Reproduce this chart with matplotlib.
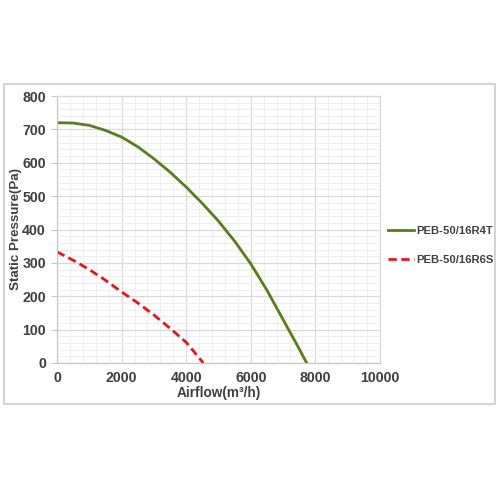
import matplotlib
matplotlib.use("Agg")
import matplotlib.pyplot as plt
from matplotlib.patches import Rectangle
from matplotlib.ticker import MultipleLocator

plt.rcParams['font.family'] = ['Liberation Sans', 'DejaVu Sans']

# Data
airflow_r4t = [0, 500, 1000, 1500, 2000, 2500, 3000, 3500, 4000, 4500, 5000, 5500, 6000, 6500, 7000, 7500, 7730]
pressure_r4t = [720, 719, 712, 697, 677, 648, 612, 572, 527, 478, 425, 365, 297, 218, 130, 42, 0]
airflow_r6s = [0, 500, 1000, 1500, 2000, 2500, 3000, 3500, 4000, 4530]
pressure_r6s = [333, 308, 280, 248, 213, 180, 144, 104, 62, 0]
series_names = ["PEB-50/16R4T", "PEB-50/16R6S"]
x_ticks = [0, 2000, 4000, 6000, 8000, 10000]
y_ticks = [0, 100, 200, 300, 400, 500, 600, 700, 800]

text_color = '#404040'
fig = plt.figure(figsize=(5, 5), dpi=100)
fig.patches.append(Rectangle((0.008, 0.192), 0.982, 0.64, transform=fig.transFigure,
                             fill=False, edgecolor='#d4d4d4', linewidth=1.5, zorder=0))
ax = fig.add_axes([0.114, 0.274, 0.646, 0.534])

ax.plot(airflow_r4t, pressure_r4t, color='#587d1d', linewidth=2.0, label=series_names[0])
ax.plot(airflow_r6s, pressure_r6s, color='#e8141c', linewidth=2.0, linestyle=(0, (3, 1.6)),
        label=series_names[1])

ax.set_xlim(0, 10000)
ax.set_ylim(0, 800)
ax.set_xticks(x_ticks)
ax.set_yticks(y_ticks)
ax.xaxis.set_minor_locator(MultipleLocator(400))
ax.yaxis.set_minor_locator(MultipleLocator(20))
ax.grid(which='major', color='#d9d9d9', linewidth=0.9)
ax.grid(which='minor', color='#efefef', linewidth=0.7)
ax.set_axisbelow(True)
for s in ax.spines.values():
    s.set_color('#d9d9d9')
    s.set_linewidth(0.9)
ax.spines['left'].set_color('#c8c8c8')
ax.spines['bottom'].set_color('#c8c8c8')
ax.tick_params(which='major', length=4, color='#c8c8c8', labelcolor=text_color, labelsize=10.2, pad=4)
ax.tick_params(which='minor', length=0)
ax.tick_params(axis='x', length=0, pad=6)
for lab in ax.get_xticklabels() + ax.get_yticklabels():
    lab.set_fontweight('bold')

ax.set_xlabel('Airflow(m³/h)', fontsize=9.8, fontweight='bold', color=text_color)
ax.set_ylabel('Static Pressure(Pa)', fontsize=9.6, fontweight='bold', color=text_color)
ax.xaxis.set_label_coords(0.5, -0.088)
ax.yaxis.set_label_coords(-0.108, 0.5)

leg = ax.legend(loc='center left', bbox_to_anchor=(1.005, 0.44), frameon=False,
                prop={'weight': 'bold', 'size': 8.1}, handlelength=2.3, handletextpad=0.15,
                labelspacing=1.75, borderaxespad=0.2)
for t in leg.get_texts():
    t.set_color(text_color)

fig.savefig('out.png', dpi=100, facecolor='white')
